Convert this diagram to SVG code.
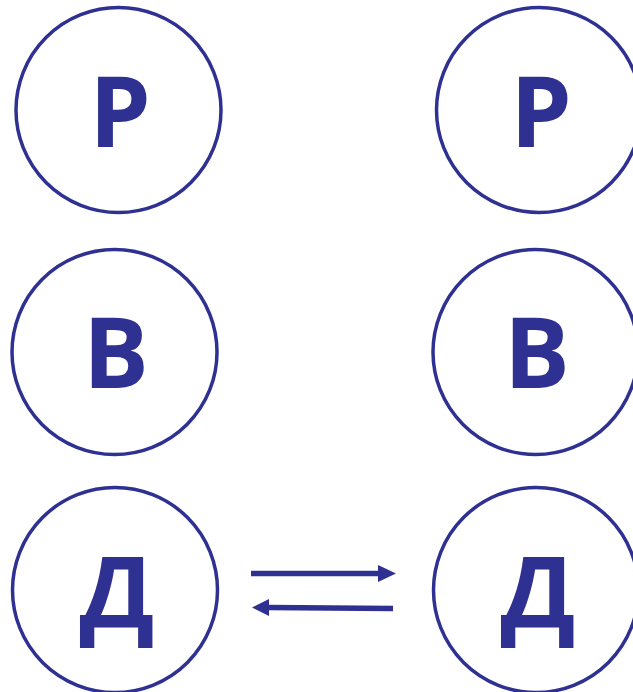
<svg xmlns="http://www.w3.org/2000/svg" width="633" height="692" viewBox="0 0 633 692">
<style>
.c{fill:#fff;stroke:#2E3192;stroke-width:3.5}
.t{font-family:"Open Sans","Noto Sans",sans-serif;font-weight:bold;font-size:98px;fill:#2E3192;text-anchor:middle}
.a{stroke:#2E3192;stroke-width:5.5;fill:none}
.h{fill:#2E3192}
</style>
<rect width="633" height="692" fill="#fff"/>
<g id="p-left"><circle class="c" cx="118.5" cy="110" r="102.5"/><text class="t" x="120" y="147">Р</text></g>
<g id="p-right"><circle class="c" cx="539" cy="110" r="102.5"/><text class="t" x="541" y="147">Р</text></g>
<g id="v-left"><circle class="c" cx="114.5" cy="352" r="102.5"/><text class="t" x="116" y="388">В</text></g>
<g id="v-right"><circle class="c" cx="535.5" cy="352" r="102.5"/><text class="t" x="537" y="388">В</text></g>
<g id="d-left"><circle class="c" cx="115" cy="590" r="102.5"/><text class="t" x="117" y="627">Д</text></g>
<g id="d-right"><circle class="c" cx="536" cy="590" r="102.5"/><text class="t" x="538" y="627">Д</text></g>
<g id="connectors">
<line class="a" x1="251" y1="573.5" x2="380" y2="573.5"/>
<polygon class="h" points="378,565 396,573.5 378,582"/>
<line class="a" x1="393" y1="608.5" x2="268" y2="607.5"/>
<polygon class="h" points="269,599 252,607.5 269,616"/>
</g>
</svg>
